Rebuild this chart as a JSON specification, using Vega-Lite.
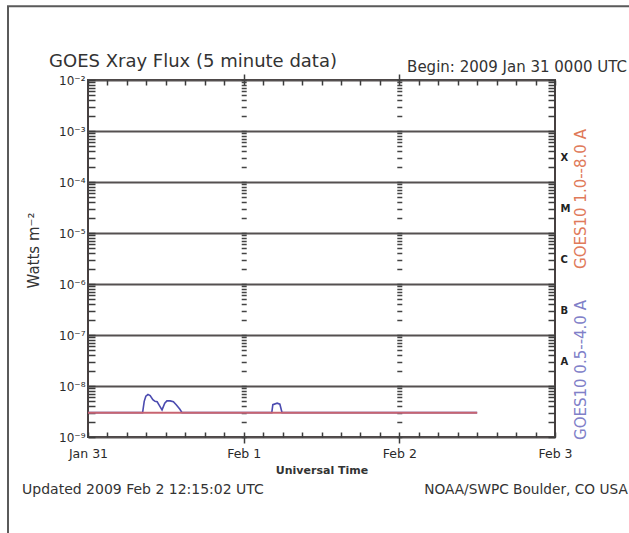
{
  "$schema": "https://vega.github.io/schema/vega-lite/v6.json",
  "width": 467,
  "height": 357,
  "autosize": {"type": "none"},
  "padding": {"left": 88, "top": 80, "right": 74, "bottom": 96},
  "background": "white",
  "config": {"view": {"stroke": "#474040", "strokeWidth": 2}, "font": "DejaVu Sans"},
  "datasets": {
    "goes10_long": [
      {"time": "2009-01-31T00:00:00Z", "flux": 3.0e-9},
      {"time": "2009-01-31T03:00:00Z", "flux": 3.0e-9},
      {"time": "2009-01-31T06:00:00Z", "flux": 3.0e-9},
      {"time": "2009-01-31T09:00:00Z", "flux": 3.0e-9},
      {"time": "2009-01-31T12:00:00Z", "flux": 3.0e-9},
      {"time": "2009-01-31T15:00:00Z", "flux": 3.0e-9},
      {"time": "2009-01-31T18:00:00Z", "flux": 3.0e-9},
      {"time": "2009-01-31T21:00:00Z", "flux": 3.0e-9},
      {"time": "2009-02-01T00:00:00Z", "flux": 3.0e-9},
      {"time": "2009-02-01T03:00:00Z", "flux": 3.0e-9},
      {"time": "2009-02-01T06:00:00Z", "flux": 3.0e-9},
      {"time": "2009-02-01T09:00:00Z", "flux": 3.0e-9},
      {"time": "2009-02-01T12:00:00Z", "flux": 3.0e-9},
      {"time": "2009-02-01T15:00:00Z", "flux": 3.0e-9},
      {"time": "2009-02-01T18:00:00Z", "flux": 3.0e-9},
      {"time": "2009-02-01T21:00:00Z", "flux": 3.0e-9},
      {"time": "2009-02-02T00:00:00Z", "flux": 3.0e-9},
      {"time": "2009-02-02T03:00:00Z", "flux": 3.0e-9},
      {"time": "2009-02-02T06:00:00Z", "flux": 3.0e-9},
      {"time": "2009-02-02T09:00:00Z", "flux": 3.0e-9},
      {"time": "2009-02-02T12:00:00Z", "flux": 3.0e-9}
    ],
    "goes10_short": [
      {"time": "2009-01-31T00:00:00Z", "flux": 3.0e-9},
      {"time": "2009-01-31T08:25:00Z", "flux": 3.0e-9},
      {"time": "2009-01-31T08:40:00Z", "flux": 5.0e-9},
      {"time": "2009-01-31T08:55:00Z", "flux": 6.3e-9},
      {"time": "2009-01-31T09:15:00Z", "flux": 6.8e-9},
      {"time": "2009-01-31T09:35:00Z", "flux": 6.5e-9},
      {"time": "2009-01-31T10:00:00Z", "flux": 5.4e-9},
      {"time": "2009-01-31T10:20:00Z", "flux": 5.0e-9},
      {"time": "2009-01-31T10:40:00Z", "flux": 4.9e-9},
      {"time": "2009-01-31T11:05:00Z", "flux": 4.0e-9},
      {"time": "2009-01-31T11:25:00Z", "flux": 3.4e-9},
      {"time": "2009-01-31T11:50:00Z", "flux": 4.6e-9},
      {"time": "2009-01-31T12:10:00Z", "flux": 5.1e-9},
      {"time": "2009-01-31T12:40:00Z", "flux": 5.1e-9},
      {"time": "2009-01-31T13:10:00Z", "flux": 4.9e-9},
      {"time": "2009-01-31T13:40:00Z", "flux": 4.2e-9},
      {"time": "2009-01-31T14:10:00Z", "flux": 3.5e-9},
      {"time": "2009-01-31T14:30:00Z", "flux": 3.0e-9},
      {"time": "2009-02-01T04:20:00Z", "flux": 3.0e-9},
      {"time": "2009-02-01T04:30:00Z", "flux": 4.3e-9},
      {"time": "2009-02-01T05:10:00Z", "flux": 4.6e-9},
      {"time": "2009-02-01T05:35:00Z", "flux": 4.4e-9},
      {"time": "2009-02-01T05:55:00Z", "flux": 3.0e-9},
      {"time": "2009-02-02T12:00:00Z", "flux": 3.0e-9}
    ]
  },
  "resolve": {"axis": {"x": "independent", "y": "independent"}},
  "layer": [
    {
      "data": {"values": [{}]},
      "mark": {"type": "rect", "filled": false, "stroke": "#5a5a5a", "strokeWidth": 2},
      "encoding": {
        "x": {"datum": {"year": 2009, "month": 1, "date": 30, "hours": 11, "minutes": 40, "utc": true}, "type": "temporal",
              "scale": {"type": "utc", "domain": [{"year": 2009, "month": 1, "date": 31, "utc": true}, {"year": 2009, "month": 2, "date": 3, "utc": true}]},
              "axis": {"orient": "bottom", "values": [{"year": 2009, "month": 2, "date": 1, "utc": true}, {"year": 2009, "month": 2, "date": 2, "utc": true}],
                       "labels": false, "domain": false, "grid": false, "title": null, "tickSize": 6, "tickWidth": 1.5, "tickColor": "#3c3c3c"}},
        "x2": {"datum": {"year": 2009, "month": 2, "date": 6, "utc": true}},
        "y": {"datum": 0.28, "type": "quantitative", "scale": {"type": "log", "domain": [1e-9, 1e-2], "nice": false}, "axis": null},
        "y2": {"datum": 1e-13}
      }
    },
    {
      "data": {"name": "goes10_short"},
      "mark": {"type": "line", "color": "#4b4bb0", "strokeWidth": 1.6},
      "encoding": {
        "x": {"field": "time", "type": "temporal",
              "scale": {"type": "utc", "domain": [{"year": 2009, "month": 1, "date": 31, "utc": true}, {"year": 2009, "month": 2, "date": 3, "utc": true}]},
              "axis": {"orient": "top", "tickCount": 24, "labels": false, "domain": false, "grid": false, "title": null,
                       "tickColor": "#3c3c3c", "tickWidth": 1.5, "tickSize": -5}},
        "y": {"field": "flux", "type": "quantitative", "scale": {"type": "log", "domain": [1e-9, 1e-2], "nice": false},
              "axis": {"orient": "right", "title": null, "domain": false, "grid": false,
                       "values": [1e-9,2e-9,3e-9,4e-9,5e-9,6e-9,7e-9,8e-9,9e-9,1e-8,2e-8,3e-8,4e-8,5e-8,6e-8,7e-8,8e-8,9e-8,1e-7,2e-7,3e-7,4e-7,5e-7,6e-7,7e-7,8e-7,9e-7,1e-6,2e-6,3e-6,4e-6,5e-6,6e-6,7e-6,8e-6,9e-6,1e-5,2e-5,3e-5,4e-5,5e-5,6e-5,7e-5,8e-5,9e-5,1e-4,2e-4,3e-4,4e-4,5e-4,6e-4,7e-4,8e-4,9e-4,1e-3,2e-3,3e-3,4e-3,5e-3,6e-3,7e-3,8e-3,9e-3,1e-2],
                       "labelExpr": "abs(log(datum.value)/LN10 + 3.5229) < 0.001 ? 'X' : abs(log(datum.value)/LN10 + 4.5229) < 0.001 ? 'M' : abs(log(datum.value)/LN10 + 5.5229) < 0.001 ? 'C' : abs(log(datum.value)/LN10 + 6.5229) < 0.001 ? 'B' : abs(log(datum.value)/LN10 + 7.5229) < 0.001 ? 'A' : ''",
                       "labelOverlap": false, "labelFlush": false, "labelBound": false,
                       "labelFontSize": 10, "labelFontWeight": "bold", "labelColor": "#222", "labelPadding": 12,
                       "tickColor": "#3c3c3c", "tickWidth": 1.5, "tickSize": -7}}
      }
    },
    {
      "data": {"name": "goes10_long"},
      "mark": {"type": "line", "color": "#c86470", "strokeWidth": 2},
      "encoding": {
        "x": {"field": "time", "type": "temporal",
              "scale": {"type": "utc", "domain": [{"year": 2009, "month": 1, "date": 31, "utc": true}, {"year": 2009, "month": 2, "date": 3, "utc": true}]},
              "axis": {"orient": "bottom", "tickCount": 24, "domain": false, "grid": false,
                       "labelExpr": "utchours(datum.value) == 0 ? utcFormat(datum.value, '%b %-d') : ''",
                       "labelOverlap": false, "labelFlush": false, "labelBound": false,
                       "labelFontSize": 12.5, "labelColor": "#2a2a2a", "labelPadding": 15,
                       "tickColor": "#3c3c3c", "tickWidth": 1.5, "tickSize": -5,
                       "title": "Universal Time", "titleFontSize": 11, "titleFontWeight": "bold", "titleColor": "#333",
                       "titleY": 33, "titleBaseline": "middle"}},
        "y": {"field": "flux", "type": "quantitative", "scale": {"type": "log", "domain": [1e-9, 1e-2], "nice": false},
              "axis": {"orient": "left", "title": "Watts m⁻²", "domain": false,
                       "values": [1e-9,2e-9,3e-9,4e-9,5e-9,6e-9,7e-9,8e-9,9e-9,1e-8,2e-8,3e-8,4e-8,5e-8,6e-8,7e-8,8e-8,9e-8,1e-7,2e-7,3e-7,4e-7,5e-7,6e-7,7e-7,8e-7,9e-7,1e-6,2e-6,3e-6,4e-6,5e-6,6e-6,7e-6,8e-6,9e-6,1e-5,2e-5,3e-5,4e-5,5e-5,6e-5,7e-5,8e-5,9e-5,1e-4,2e-4,3e-4,4e-4,5e-4,6e-4,7e-4,8e-4,9e-4,1e-3,2e-3,3e-3,4e-3,5e-3,6e-3,7e-3,8e-3,9e-3,1e-2],
                       "labelExpr": "abs(log(datum.value)/LN10 - round(log(datum.value)/LN10)) < 0.001 ? '10⁻' + ['⁰','¹','²','³','⁴','⁵','⁶','⁷','⁸','⁹'][-round(log(datum.value)/LN10)] : ''",
                       "labelOverlap": false, "labelFlush": false, "labelBound": false,
                       "labelFontSize": 12, "labelColor": "#2a2a2a", "labelPadding": 10,
                       "tickColor": "#3c3c3c", "tickWidth": 1.5, "tickSize": -7,
                       "grid": true, "gridColor": "#555050", "gridWidth": 2,
                       "gridOpacity": {"condition": {"test": "abs(log(datum.value)/LN10 - round(log(datum.value)/LN10)) < 0.001", "value": 1}, "value": 0},
                       "titleFontSize": 15, "titleFontWeight": "normal", "titleColor": "#333",
                       "titleX": -55, "titleY": 170, "titleAngle": 270, "titleAlign": "center", "titleBaseline": "middle"}}
      }
    },
    {
      "data": {"values": [{}]},
      "mark": {"type": "text", "align": "left", "baseline": "middle", "fontSize": 18, "color": "#333"},
      "encoding": {
        "x": {"datum": {"year": 2009, "month": 1, "date": 30, "hours": 18, "utc": true}, "type": "temporal",
              "scale": {"type": "utc", "domain": [{"year": 2009, "month": 1, "date": 31, "utc": true}, {"year": 2009, "month": 2, "date": 3, "utc": true}]},
              "axis": {"orient": "top", "values": [{"year": 2009, "month": 2, "date": 1, "utc": true}, {"year": 2009, "month": 2, "date": 2, "utc": true}],
                       "labels": false, "domain": false, "grid": false, "title": null, "tickSize": 6, "tickWidth": 1.5, "tickColor": "#3c3c3c"}},
        "y": {"datum": 0.0225, "type": "quantitative", "scale": {"type": "log", "domain": [1e-9, 1e-2], "nice": false}, "axis": null},
        "text": {"value": "GOES Xray Flux (5 minute data)"}
      }
    },
    {
      "data": {"values": [{}]},
      "mark": {"type": "text", "align": "right", "baseline": "middle", "fontSize": 15, "color": "#333"},
      "encoding": {
        "x": {"datum": {"year": 2009, "month": 2, "date": 3, "hours": 11, "minutes": 6, "utc": true}, "type": "temporal",
              "scale": {"type": "utc", "domain": [{"year": 2009, "month": 1, "date": 31, "utc": true}, {"year": 2009, "month": 2, "date": 3, "utc": true}]}, "axis": null},
        "y": {"datum": 0.018, "type": "quantitative", "scale": {"type": "log", "domain": [1e-9, 1e-2], "nice": false}, "axis": null},
        "text": {"value": "Begin:  2009 Jan 31 0000 UTC"}
      }
    },
    {
      "data": {"values": [{}]},
      "mark": {"type": "text", "align": "left", "baseline": "middle", "fontSize": 14, "color": "#333"},
      "encoding": {
        "x": {"datum": {"year": 2009, "month": 1, "date": 30, "hours": 13, "minutes": 50, "utc": true}, "type": "temporal",
              "scale": {"type": "utc", "domain": [{"year": 2009, "month": 1, "date": 31, "utc": true}, {"year": 2009, "month": 2, "date": 3, "utc": true}]}, "axis": null},
        "y": {"datum": 9e-11, "type": "quantitative", "scale": {"type": "log", "domain": [1e-9, 1e-2], "nice": false},
              "axis": {"orient": "left", "offset": -158.2, "title": null, "labels": false, "domain": false, "grid": false,
                       "values": [1e-9,2e-9,3e-9,4e-9,5e-9,6e-9,7e-9,8e-9,9e-9,1e-8,2e-8,3e-8,4e-8,5e-8,6e-8,7e-8,8e-8,9e-8,1e-7,2e-7,3e-7,4e-7,5e-7,6e-7,7e-7,8e-7,9e-7,1e-6,2e-6,3e-6,4e-6,5e-6,6e-6,7e-6,8e-6,9e-6,1e-5,2e-5,3e-5,4e-5,5e-5,6e-5,7e-5,8e-5,9e-5,1e-4,2e-4,3e-4,4e-4,5e-4,6e-4,7e-4,8e-4,9e-4,1e-3,2e-3,3e-3,4e-3,5e-3,6e-3,7e-3,8e-3,9e-3,1e-2],
                       "tickSize": 5, "tickWidth": 1.5, "tickColor": "#444"}},
        "text": {"value": "Updated 2009 Feb  2 12:15:02 UTC"}
      }
    },
    {
      "data": {"values": [{}]},
      "mark": {"type": "text", "align": "left", "baseline": "middle", "fontSize": 13.7, "color": "#333"},
      "encoding": {
        "x": {"datum": {"year": 2009, "month": 2, "date": 2, "hours": 3, "minutes": 50, "utc": true}, "type": "temporal",
              "scale": {"type": "utc", "domain": [{"year": 2009, "month": 1, "date": 31, "utc": true}, {"year": 2009, "month": 2, "date": 3, "utc": true}]}, "axis": null},
        "y": {"datum": 9e-11, "type": "quantitative", "scale": {"type": "log", "domain": [1e-9, 1e-2], "nice": false},
              "axis": {"orient": "left", "offset": -313.8, "title": null, "labels": false, "domain": false, "grid": false,
                       "values": [1e-9,2e-9,3e-9,4e-9,5e-9,6e-9,7e-9,8e-9,9e-9,1e-8,2e-8,3e-8,4e-8,5e-8,6e-8,7e-8,8e-8,9e-8,1e-7,2e-7,3e-7,4e-7,5e-7,6e-7,7e-7,8e-7,9e-7,1e-6,2e-6,3e-6,4e-6,5e-6,6e-6,7e-6,8e-6,9e-6,1e-5,2e-5,3e-5,4e-5,5e-5,6e-5,7e-5,8e-5,9e-5,1e-4,2e-4,3e-4,4e-4,5e-4,6e-4,7e-4,8e-4,9e-4,1e-3,2e-3,3e-3,4e-3,5e-3,6e-3,7e-3,8e-3,9e-3,1e-2],
                       "tickSize": 5, "tickWidth": 1.5, "tickColor": "#444"}},
        "text": {"value": "NOAA/SWPC Boulder, CO USA"}
      }
    },
    {
      "data": {"values": [{}]},
      "mark": {"type": "text", "align": "center", "baseline": "middle", "angle": 270, "fontSize": 15, "color": "#e07a5a"},
      "encoding": {
        "x": {"datum": {"year": 2009, "month": 2, "date": 3, "hours": 4, "utc": true}, "type": "temporal",
              "scale": {"type": "utc", "domain": [{"year": 2009, "month": 1, "date": 31, "utc": true}, {"year": 2009, "month": 2, "date": 3, "utc": true}]}, "axis": null},
        "y": {"datum": 4.64e-5, "type": "quantitative", "scale": {"type": "log", "domain": [1e-9, 1e-2], "nice": false}, "axis": null},
        "text": {"value": "GOES10 1.0--8.0 A"}
      }
    },
    {
      "data": {"values": [{}]},
      "mark": {"type": "text", "align": "center", "baseline": "middle", "angle": 270, "fontSize": 15, "color": "#8080c8"},
      "encoding": {
        "x": {"datum": {"year": 2009, "month": 2, "date": 3, "hours": 4, "utc": true}, "type": "temporal",
              "scale": {"type": "utc", "domain": [{"year": 2009, "month": 1, "date": 31, "utc": true}, {"year": 2009, "month": 2, "date": 3, "utc": true}]}, "axis": null},
        "y": {"datum": 2.06e-8, "type": "quantitative", "scale": {"type": "log", "domain": [1e-9, 1e-2], "nice": false}, "axis": null},
        "text": {"value": "GOES10 0.5--4.0 A"}
      }
    }
  ]
}
